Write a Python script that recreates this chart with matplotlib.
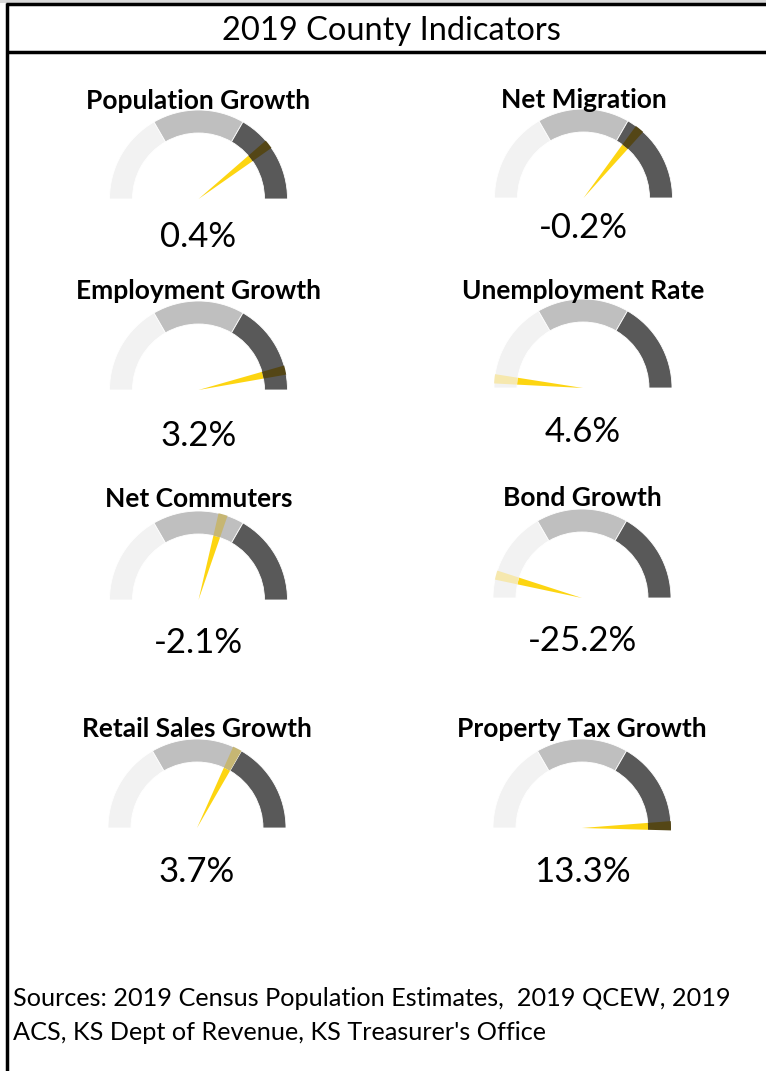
import numpy as np
import matplotlib
matplotlib.use("Agg")
import matplotlib.pyplot as plt
from matplotlib.patches import Wedge, Rectangle

# data
title = "2019 County Indicators"
indicators = ["Population Growth", "Net Migration", "Employment Growth", "Unemployment Rate",
              "Net Commuters", "Bond Growth", "Retail Sales Growth", "Property Tax Growth"]
values = ["0.4%", "-0.2%", "3.2%", "4.6%", "-2.1%", "-25.2%", "3.7%", "13.3%"]
# needle position along the dial, 0 = left end, 1 = right end
needle_pos = [0.789, 0.717, 0.928, 0.033, 0.589, 0.083, 0.65, 0.992]
dial_bands = [1, 1, 1]
sources = ["Sources: 2019 Census Population Estimates,  2019 QCEW, 2019",
           "ACS, KS Dept of Revenue, KS Treasurer's Office"]

band_colors = ["#F2F2F2", "#BFBFBF", "#595959"]
overlap_colors = ["#F6E8AE", "#C6B673", "#544616"]
needle_color = "#FDD511"

W, H = 766, 1071
plt.rcParams['font.family'] = ['Lato', 'DejaVu Sans']

fig = plt.figure(figsize=(W / 100, H / 100), dpi=100)
ax = fig.add_axes([0, 0, 1, 1])
ax.set_xlim(0, W)
ax.set_ylim(0, H)
ax.axis('off')


def Y(py):
    return H - py


# frame
ax.add_patch(Rectangle((0, Y(2.5)), W, 2.5, color="#D9D9D9", lw=0))
ax.plot([6, W], [Y(4), Y(4)], color="black", lw=2.5, solid_capstyle='butt')
ax.plot([6, W], [Y(52), Y(52)], color="black", lw=2.5, solid_capstyle='butt')
ax.plot([7, 7], [Y(3), 0], color="black", lw=2.5, solid_capstyle='butt')
ax.text(391, Y(31), title, ha='center', va='center', fontsize=23.5)

# gauge layout (pixel centres of dial baselines)
centers = [(198.5, 199), (583.5, 198), (198.5, 390), (583, 388),
           (198.5, 600), (582, 598), (197, 828), (582, 828)]
title_y = [101, 100, 291, 291, 499, 498, 729, 729]
value_y = [237, 228, 436, 432, 643, 641, 872, 872]
r_out, r_in = 89, 66
needle_w = 6.0

edges = np.cumsum([0] + dial_bands) / sum(dial_bands)

for i, name in enumerate(indicators):
    cx, cy = centers[i]
    cy = Y(cy)
    # bands, left to right
    for k in range(len(dial_bands)):
        a1 = 180 * (1 - edges[k + 1])
        a2 = 180 * (1 - edges[k])
        ax.add_patch(Wedge((cx, cy), r_out, a1, a2, width=r_out - r_in,
                           facecolor=band_colors[k], edgecolor='white', lw=0.6))
    # needle
    ang = 180 * (1 - needle_pos[i])
    n1, n2 = ang - needle_w / 2, ang + needle_w / 2
    ax.add_patch(Wedge((cx, cy), r_in, n1, n2, facecolor=needle_color, lw=0))
    for k in range(len(dial_bands)):
        a1 = 180 * (1 - edges[k + 1])
        a2 = 180 * (1 - edges[k])
        if k == len(dial_bands) - 1:
            a1 = -10
        if k == 0:
            a2 = 190
        lo, hi = max(a1, n1), min(a2, n2)
        if hi > lo:
            ax.add_patch(Wedge((cx, cy), r_out, lo, hi, width=r_out - r_in,
                               facecolor=overlap_colors[k], lw=0))
    ax.text(cx, Y(title_y[i]), name, ha='center', va='center',
            fontsize=19, fontweight='bold')
    ax.text(cx, Y(value_y[i]), values[i], ha='center', va='center', fontsize=25)

ax.text(13, Y(998), sources[0], ha='left', va='center', fontsize=18.2)
ax.text(13, Y(1032), sources[1], ha='left', va='center', fontsize=18.2)

fig.savefig("out.png", dpi=100)
